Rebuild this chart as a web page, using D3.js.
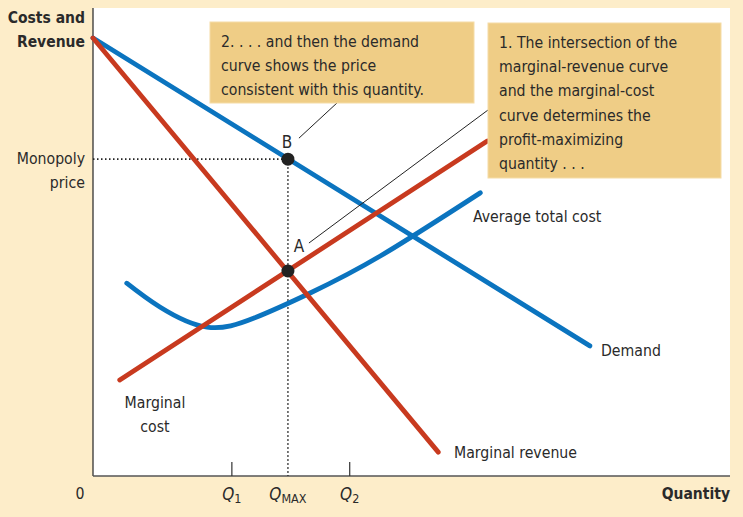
<!DOCTYPE html>
<html><head><meta charset="utf-8">
<script src="https://cdn.jsdelivr.net/npm/d3@7/dist/d3.min.js"></script>
<style>
html,body{margin:0;padding:0;background:#fdedc9;}
svg{display:block;}
text{font-family:"DejaVu Sans Condensed","Noto Sans",sans-serif;fill:#2a2a2a;}
</style></head><body>
<svg id="chart" width="743" height="517"></svg>
<script>
// Data (quantity 0-100, price 0-100)
const demand = [[0, 93.6], [78.0, 27.8]];
const marginalRevenue = [[0, 93.6], [54.2, 5.1]];
const marginalCost = [[4.2, 20.5], [61.9, 71.6]];
const averageTotalCost = [[5.3,41.2],[10.5,36.1],[17.9,31.8],[25.4,33.8],[34.1,39.1],[45.1,47.0],[60.8,60.5]];
const qTicks = [{q:21.8, label:"Q", sub:"1"}, {q:30.6, label:"Q", sub:"MAX"}, {q:40.3, label:"Q", sub:"2"}];
const pointA = {q:30.6, p:43.8, label:"A"};
const pointB = {q:30.6, p:67.7, label:"B"};
const note1 = ["1. The intersection of the","marginal-revenue curve","and the marginal-cost","curve determines the","profit-maximizing","quantity . . ."];
const note2 = ["2. . . . and then the demand","curve shows the price","consistent with this quantity."];

const svg = d3.select("#chart");
const x = d3.scaleLinear().domain([0,100]).range([93,730]);
const y = d3.scaleLinear().domain([0,100]).range([476,8]);
const blue = "#0b74bf", red = "#c83a1f";
const FS = 15.7;

// plot panel
svg.append("rect").attr("x",x(0)).attr("y",y(100)).attr("width",x(100)-x(0)).attr("height",y(0)-y(100)).attr("fill","#fff");

// axes
svg.append("line").attr("x1",x(0)).attr("x2",x(0)).attr("y1",y(100)).attr("y2",y(0)).attr("stroke","#333").attr("stroke-width",1.3);
svg.append("line").attr("x1",x(0)).attr("x2",x(100)).attr("y1",y(0)).attr("y2",y(0)).attr("stroke","#555").attr("stroke-width",1.3);

// ticks
qTicks.forEach(t=>{
  if(t.sub!=="MAX") svg.append("line").attr("x1",x(t.q)).attr("x2",x(t.q)).attr("y1",y(0)-14).attr("y2",y(0)).attr("stroke","#333").attr("stroke-width",1.2);
  const tx = svg.append("text").attr("x",x(t.q)).attr("y",500).attr("text-anchor","middle").attr("font-size",17);
  tx.append("tspan").attr("font-style","italic").text(t.label);
  tx.append("tspan").attr("font-size",12.5).attr("dy",3).text(t.sub);
});
svg.append("text").attr("x",80).attr("y",499).attr("text-anchor","middle").attr("font-size",FS).text("0");
svg.append("text").attr("x",730).attr("y",499).attr("text-anchor","end").attr("font-size",15.5).attr("font-weight","bold").text("Quantity");
svg.append("text").attr("x",85).attr("y",23).attr("text-anchor","end").attr("font-size",15.5).attr("font-weight","bold").text("Costs and");
svg.append("text").attr("x",85).attr("y",47).attr("text-anchor","end").attr("font-size",15.5).attr("font-weight","bold").text("Revenue");
svg.append("text").attr("x",85).attr("y",164).attr("text-anchor","end").attr("font-size",FS).text("Monopoly");
svg.append("text").attr("x",85).attr("y",188).attr("text-anchor","end").attr("font-size",FS).text("price");

// dotted guides
svg.append("line").attr("x1",x(0)).attr("x2",x(pointB.q)).attr("y1",y(pointB.p)).attr("y2",y(pointB.p)).attr("stroke","#222").attr("stroke-width",1.6).attr("stroke-dasharray","1.5,2.5");
svg.append("line").attr("x1",x(pointB.q)).attr("x2",x(pointB.q)).attr("y1",y(pointB.p)).attr("y2",y(0)).attr("stroke","#222").attr("stroke-width",1.6).attr("stroke-dasharray","1.5,2.5");

const line = d3.line().x(d=>x(d[0])).y(d=>y(d[1]));
const curve = d3.line().x(d=>x(d[0])).y(d=>y(d[1])).curve(d3.curveNatural);
function draw(path, data, color){
  svg.append("path").attr("d",path(data)).attr("fill","none").attr("stroke",color).attr("stroke-width",4.8).attr("stroke-linecap","round");
}
draw(curve, averageTotalCost, blue);
draw(line, demand, blue);
draw(line, marginalCost, red);
draw(line, marginalRevenue, red);

// points
[pointA, pointB].forEach(p=>{
  svg.append("circle").attr("cx",x(p.q)).attr("cy",y(p.p)).attr("r",6.5).attr("fill","#222");
});
svg.append("text").attr("x",x(pointB.q)-1).attr("y",y(pointB.p)-11).attr("text-anchor","middle").attr("font-size",17).text(pointB.label);
svg.append("text").attr("x",x(pointA.q)+11).attr("y",y(pointA.p)-19).attr("text-anchor","middle").attr("font-size",17).text(pointA.label);

// curve labels
svg.append("text").attr("x",473).attr("y",222).attr("font-size",FS).text("Average total cost");
svg.append("text").attr("x",601).attr("y",356).attr("font-size",FS).text("Demand");
svg.append("text").attr("x",454).attr("y",458).attr("font-size",FS).text("Marginal revenue");
svg.append("text").attr("x",155).attr("y",408).attr("text-anchor","middle").attr("font-size",FS).text("Marginal");
svg.append("text").attr("x",155).attr("y",432).attr("text-anchor","middle").attr("font-size",FS).text("cost");

// leader lines
svg.append("line").attr("x1",x(pointB.q)+11).attr("y1",y(pointB.p)-21).attr("x2",338).attr("y2",102).attr("stroke","#222").attr("stroke-width",1);
svg.append("line").attr("x1",x(pointA.q)+21).attr("y1",y(pointA.p)-28).attr("x2",488).attr("y2",110).attr("stroke","#222").attr("stroke-width",1);

// notes
function note(lines, bx, by, bw, bh){
  svg.append("rect").attr("x",bx).attr("y",by).attr("width",bw).attr("height",bh).attr("fill","#efcd86").attr("stroke","#f5dca6").attr("stroke-width",1);
  lines.forEach((l,i)=>svg.append("text").attr("x",bx+11).attr("y",by+25+i*24.2).attr("font-size",FS).text(l));
}
note(note2, 210, 22, 264, 81);
note(note1, 488, 23, 233, 155);
</script>
</body></html>
